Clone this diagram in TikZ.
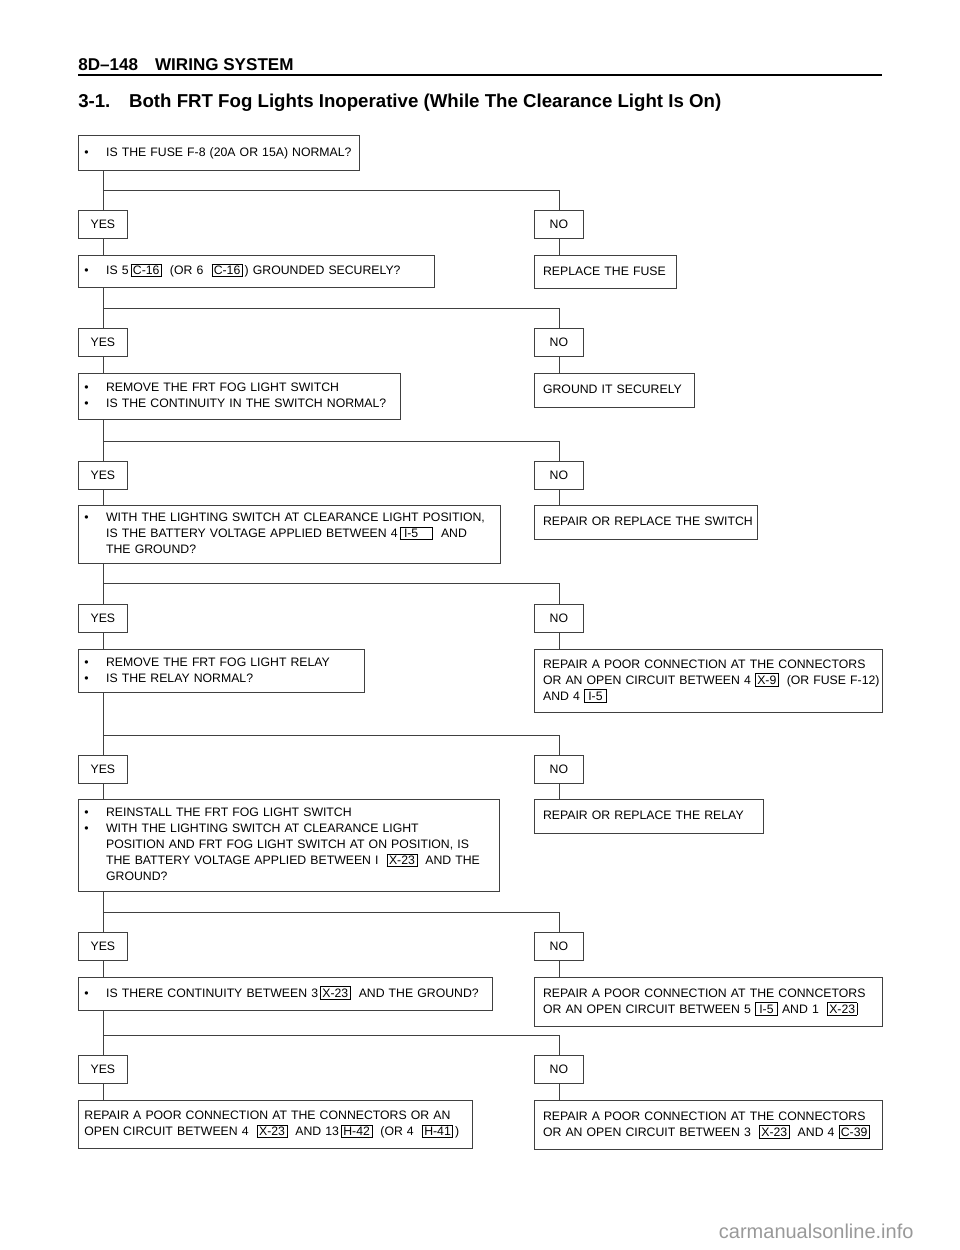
\documentclass[tikz,border=0pt]{standalone}
\usepackage{fontspec}
\setmainfont{Liberation Sans}
\usetikzlibrary{positioning}

\definecolor{linec}{gray}{0.25}
\newcommand{\bul}{\makebox[16.3pt][l]{\textbullet}}
\newcommand{\ind}{\hspace*{16.3pt}}
\newcommand{\conn}[1]{{\fboxsep=1.2pt\fboxrule=0.5pt\fbox{#1}}}
\newcommand{\lines}[1]{\begin{tabular}{@{}l@{}}#1\end{tabular}}

\tikzset{
  qbox/.style={draw=linec, line width=0.6pt, anchor=north west, align=left,
    inner xsep=4.5pt, inner ysep=0pt, font=\fontsize{9.2}{12}\selectfont},
  rbox/.style={qbox, inner xsep=6.5pt},
  ynbox/.style={draw=linec, line width=0.6pt, anchor=north west, inner sep=0pt,
    minimum width=36.75pt, minimum height=21pt, font=\fontsize{9.2}{12}\selectfont},
  wire/.style={draw=linec, line width=0.6pt}
}

\begin{document}
\begin{tikzpicture}[x=1pt, y=-1pt]
  \useasboundingbox (0,0) rectangle (720,937.5);

  % Heading
  \node[anchor=west, inner sep=0pt, font=\bfseries\fontsize{12.8}{14}\selectfont] (head) at (58.5,48.8) {8D--148\quad WIRING SYSTEM};
  \draw[line width=1.5pt] (58.5,56.25) -- (661.5,56.25);
  \node[anchor=west, inner sep=0pt, font=\bfseries\fontsize{14}{16}\selectfont] (title) at (58.5,77.3) {3-1.\quad Both FRT Fog Lights Inoperative (While The Clearance Light Is On)};

  % Questions
  \node[qbox, text width=201.75pt, minimum height=26.25pt] (q1) at (58.5,101.25) {\lines{\bul IS THE FUSE F-8 (20A OR 15A) NORMAL?}};
  \node[qbox, text width=258pt, minimum height=24pt] (q2) at (58.5,191.25) {\lines{\bul IS 5\,\conn{C-16}\ \ (OR 6 \ \conn{C-16}\,) GROUNDED SECURELY?}};
  \node[qbox, text width=232.5pt, minimum height=34.5pt] (q3) at (58.5,279.75) {\lines{\bul REMOVE THE FRT FOG LIGHT SWITCH\\ \bul IS THE CONTINUITY IN THE SWITCH NORMAL?}};
  \node[qbox, text width=307.5pt, minimum height=43.5pt] (q4) at (58.5,378.75) {\lines{\bul WITH THE LIGHTING SWITCH AT CLEARANCE LIGHT POSITION,\\ \ind IS THE BATTERY VOLTAGE APPLIED BETWEEN 4\,\conn{\,I-5\quad}\ \ AND\\ \ind THE GROUND?}};
  \node[qbox, text width=205.5pt, minimum height=32.25pt] (q5) at (58.5,486.75) {\lines{\bul REMOVE THE FRT FOG LIGHT RELAY\\ \bul IS THE RELAY NORMAL?}};
  \node[qbox, text width=306.75pt, minimum height=69pt] (q6) at (58.5,599.25) {\lines{\bul REINSTALL THE FRT FOG LIGHT SWITCH\\ \bul WITH THE LIGHTING SWITCH AT CLEARANCE LIGHT\\ \ind POSITION AND FRT FOG LIGHT SWITCH AT ON POSITION, IS\\ \ind THE BATTERY VOLTAGE APPLIED BETWEEN I \ \conn{X-23}\ \ AND THE\\ \ind GROUND?}};
  \node[qbox, text width=301.5pt, minimum height=24.75pt] (q7) at (58.5,732.75) {\lines{\bul IS THERE CONTINUITY BETWEEN 3\,\conn{X-23}\ \ AND THE GROUND?}};
  \node[qbox, text width=286.5pt, minimum height=36pt] (q8) at (58.5,825) {\lines{REPAIR A POOR CONNECTION AT THE CONNECTORS OR AN\\ OPEN CIRCUIT BETWEEN 4 \ \conn{X-23}\ \ AND 13\,\conn{H-42}\ \ (OR 4 \ \conn{H-41}\,)}};

  % Remedies
  \node[rbox, text width=93.5pt, minimum height=24.75pt] (r1) at (400.5,191.25) {\lines{REPLACE THE FUSE}};
  \node[rbox, text width=107pt, minimum height=25.5pt] (r2) at (400.5,279.75) {\lines{GROUND IT SECURELY}};
  \node[rbox, text width=154.25pt, minimum height=25.5pt] (r3) at (400.5,378.75) {\lines{REPAIR OR REPLACE THE SWITCH}};
  \node[rbox, text width=248pt, minimum height=47.25pt] (r4) at (400.5,486.75) {\lines{REPAIR A POOR CONNECTION AT THE CONNECTORS\\ OR AN OPEN CIRCUIT BETWEEN 4 \conn{X-9}\ \ (OR FUSE F-12)\\ AND 4 \conn{\,I-5\,}}};
  \node[rbox, text width=158.75pt, minimum height=25.5pt] (r5) at (400.5,599.25) {\lines{REPAIR OR REPLACE THE RELAY}};
  \node[rbox, text width=248pt, minimum height=36.75pt] (r6) at (400.5,732.75) {\lines{REPAIR A POOR CONNECTION AT THE CONNCETORS\\ OR AN OPEN CIRCUIT BETWEEN 5 \conn{\,I-5\,} AND 1 \ \conn{X-23}}};
  \node[rbox, text width=248pt, minimum height=36.75pt] (r7) at (400.5,825) {\lines{REPAIR A POOR CONNECTION AT THE CONNECTORS\\ OR AN OPEN CIRCUIT BETWEEN 3 \ \conn{X-23}\ \ AND 4 \conn{C-39}}};

  % YES / NO labels
  \node[ynbox] (yes1) at (58.5,157.5) {YES};   \node[ynbox] (no1) at (400.5,157.5) {NO};
  \node[ynbox] (yes2) at (58.5,246)   {YES};   \node[ynbox] (no2) at (400.5,246)   {NO};
  \node[ynbox] (yes3) at (58.5,345.75) {YES};  \node[ynbox] (no3) at (400.5,345.75) {NO};
  \node[ynbox] (yes4) at (58.5,453)   {YES};   \node[ynbox] (no4) at (400.5,453)   {NO};
  \node[ynbox] (yes5) at (58.5,566.25) {YES};  \node[ynbox] (no5) at (400.5,566.25) {NO};
  \node[ynbox] (yes6) at (58.5,699)   {YES};   \node[ynbox] (no6) at (400.5,699)   {NO};
  \node[ynbox] (yes7) at (58.5,791.25) {YES};  \node[ynbox] (no7) at (400.5,791.25) {NO};

  % Branch levels
  \coordinate (b1) at (0,142.5);
  \coordinate (b2) at (0,231);
  \coordinate (b3) at (0,330.75);
  \coordinate (b4) at (0,437.25);
  \coordinate (b5) at (0,551.25);
  \coordinate (b6) at (0,684);
  \coordinate (b7) at (0,776.25);

  % Connections
  \draw[wire] (q1.south -| yes1) -- (yes1);  \draw[wire] (yes1) -- (yes1 |- q2.north);
  \draw[wire] (yes1 |- b1) -| (no1);          \draw[wire] (no1) -- (no1 |- r1.north);
  \draw[wire] (q2.south -| yes2) -- (yes2);  \draw[wire] (yes2) -- (yes2 |- q3.north);
  \draw[wire] (yes2 |- b2) -| (no2);          \draw[wire] (no2) -- (no2 |- r2.north);
  \draw[wire] (q3.south -| yes3) -- (yes3);  \draw[wire] (yes3) -- (yes3 |- q4.north);
  \draw[wire] (yes3 |- b3) -| (no3);          \draw[wire] (no3) -- (no3 |- r3.north);
  \draw[wire] (q4.south -| yes4) -- (yes4);  \draw[wire] (yes4) -- (yes4 |- q5.north);
  \draw[wire] (yes4 |- b4) -| (no4);          \draw[wire] (no4) -- (no4 |- r4.north);
  \draw[wire] (q5.south -| yes5) -- (yes5);  \draw[wire] (yes5) -- (yes5 |- q6.north);
  \draw[wire] (yes5 |- b5) -| (no5);          \draw[wire] (no5) -- (no5 |- r5.north);
  \draw[wire] (q6.south -| yes6) -- (yes6);  \draw[wire] (yes6) -- (yes6 |- q7.north);
  \draw[wire] (yes6 |- b6) -| (no6);          \draw[wire] (no6) -- (no6 |- r6.north);
  \draw[wire] (q7.south -| yes7) -- (yes7);  \draw[wire] (yes7) -- (yes7 |- q8.north);
  \draw[wire] (yes7 |- b7) -| (no7);          \draw[wire] (no7) -- (no7 |- r7.north);

  % Watermark
  \node[anchor=west, inner sep=0pt, text=black!40, font=\fontsize{15}{17}\selectfont] (mark) at (539,923.5) {carmanualsonline.info};
\end{tikzpicture}
\end{document}
